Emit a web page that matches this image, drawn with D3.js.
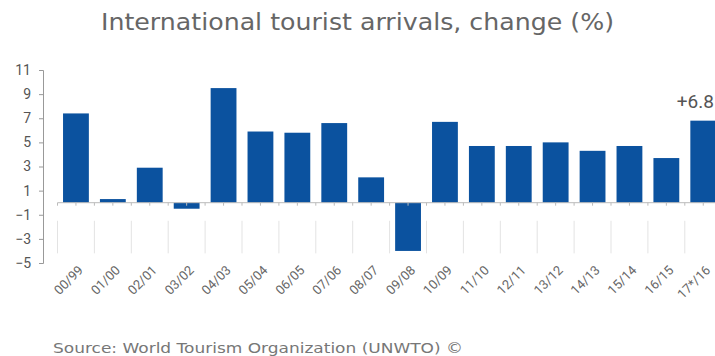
<!DOCTYPE html>
<html>
<head>
<meta charset="utf-8">
<script src="https://cdn.jsdelivr.net/npm/d3@7"></script>
<style>
  html, body { margin: 0; padding: 0; background: #fff; }
  svg { display: block; font-family: Roboto, "Open Sans", sans-serif; }
</style>
</head>
<body>
<svg id="chart" width="715" height="356"></svg>
<script>
// Period labels (year / previous year)
const periods = ["00/99","01/00","02/01","03/02","04/03","05/04","06/05","07/06","08/07",
                 "09/08","10/09","11/10","12/11","13/12","14/13","15/14","16/15","17*/16"];
// Change in international tourist arrivals, %
const changes = [7.4, 0.3, 2.9, -0.5, 9.5, 5.9, 5.8, 6.6, 2.1,
                 -4.0, 6.7, 4.7, 4.7, 5.0, 4.3, 4.7, 3.7, 6.8];
// Y axis ticks
const yTicks = [-5, -3, -1, 1, 3, 5, 7, 9, 11];
const highlightLabel = "+6.8";

const svg = d3.select("#chart");
const barColor = "#0b529f";

const x = d3.scaleBand()
  .domain(periods)
  .range([57.5, 721.7])
  .paddingInner(0.3)
  .paddingOuter(0.15);

const y = d3.scaleLinear().domain([-5, 11]).range([263, 70]);

// Title
svg.append("text")
  .attr("x", 101).attr("y", 30)
  .attr("font-size", 23)
  .attr("font-family", "'DejaVu Sans', sans-serif")
  .attr("fill", "#666")
  .attr("textLength", 513)
  .attr("lengthAdjust", "spacingAndGlyphs")
  .text("International tourist arrivals, change (%)");

// Light vertical separators in the lower area, at band boundaries
const bounds = periods.map(p => x(p) - x.step() * x.paddingInner() / 2);
svg.append("g").selectAll("line")
  .data(bounds)
  .join("line")
  .attr("x1", d => d).attr("x2", d => d)
  .attr("y1", y(-1.5)).attr("y2", y(-4.2))
  .attr("stroke", "#e3e3e3").attr("stroke-width", 1);

// Y axis
const yAxis = svg.append("g")
  .attr("transform", "translate(43,0)")
  .call(d3.axisLeft(y).tickValues(yTicks).tickSize(4).tickPadding(8).tickFormat(d3.format("d")));
yAxis.select(".domain").attr("stroke", "#999");
yAxis.selectAll(".tick line").attr("stroke", "#999");
yAxis.selectAll(".tick text")
  .attr("font-size", 14)
  .attr("fill", "#555")
  .attr("font-family", "Roboto, sans-serif");

// Bars
svg.append("g").selectAll("rect")
  .data(periods.map((p, i) => ({ p, v: changes[i] })))
  .join("rect")
  .attr("x", d => x(d.p))
  .attr("width", x.bandwidth())
  .attr("y", d => y(Math.max(0, d.v)))
  .attr("height", d => Math.abs(y(d.v) - y(0)))
  .attr("fill", barColor);

// Zero baseline with small ticks at band centres and boundaries
const xAxis = svg.append("g")
  .attr("transform", `translate(0,${y(0)})`);
xAxis.append("line")
  .attr("x1", 57.5).attr("x2", 715)
  .attr("stroke", "#bbb");
const tickXs = bounds.concat(periods.map(p => x(p) + x.bandwidth() / 2));
xAxis.selectAll("line.tk")
  .data(tickXs)
  .join("line")
  .attr("class", "tk")
  .attr("x1", d => d).attr("x2", d => d)
  .attr("y1", 0).attr("y2", 3)
  .attr("stroke", "#bbb");

// Rotated category labels
svg.append("g").selectAll("text")
  .data(periods)
  .join("text")
  .attr("transform", p => `translate(${x(p) + x.bandwidth() / 2 + 8},${271}) rotate(-45)`)
  .attr("text-anchor", "end")
  .attr("font-size", 13)
  .attr("fill", "#666")
  .text(p => p);

// Value label on the latest bar
svg.append("text")
  .attr("x", 714)
  .attr("y", y(changes[changes.length - 1]) - 13)
  .attr("text-anchor", "end")
  .attr("font-size", 19)
  .attr("fill", "#555")
  .text(highlightLabel);

// Source note
svg.append("text")
  .attr("x", 53).attr("y", 353)
  .attr("font-size", 14.5)
  .attr("font-family", "'DejaVu Sans', sans-serif")
  .attr("fill", "#777")
  .attr("textLength", 410)
  .attr("lengthAdjust", "spacingAndGlyphs")
  .text("Source: World Tourism Organization (UNWTO) ©");
</script>
</body>
</html>
